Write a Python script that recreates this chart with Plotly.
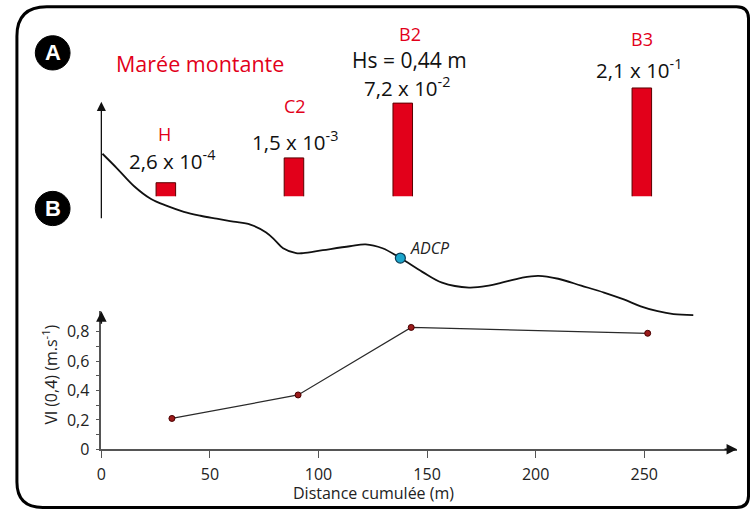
import plotly.graph_objects as go

# ---------------- data ----------------
# lower panel: Vl(0,4) velocities
dist_pts = [32.5, 90.6, 142.7, 251.6]
vel_pts = [0.21, 0.37, 0.83, 0.79]

# bars: sediment flux values (log scale) at each station
bar_names = ["H", "C2", "B2", "B3"]
bar_x = [29.7, 88.7, 138.8, 248.9]
bar_vals = [2.6e-4, 1.5e-3, 7.2e-2, 2.1e-1]
bar_labels = ["2,6 x 10<sup>-4</sup>", "1,5 x 10<sup>-3</sup>",
              "7,2 x 10<sup>-2</sup>", "2,1 x 10<sup>-1</sup>"]

# beach profile (relative elevation, arbitrary units)
prof_x = [0.5, 7.3, 15.1, 22.9, 30.2, 38.0, 45.7, 53.1, 60.8, 68.6, 75.9, 80.0,
          83.7, 89.7, 92.9, 102.0, 114.4, 121.7, 129.5, 137.7, 147.8, 156.9,
          169.3, 178.4, 184.4, 193.5, 201.3, 210.4, 221.0, 231.5, 240.6, 248.4,
          256.2, 263.5, 272.6]
prof_z = [8.4, 7.65, 6.75, 6.1, 5.75, 5.45, 5.25, 5.1, 4.95, 4.8, 4.4, 4.0,
          3.6, 3.35, 3.35, 3.5, 3.7, 3.8, 3.6, 3.1, 2.4, 1.85,
          1.6, 1.7, 1.85, 2.1, 2.2, 2.05, 1.7, 1.35, 1.0, 0.65,
          0.4, 0.25, 0.2]
adcp_x = [137.7]
adcp_z = [3.1]

x_ticks = [0, 50, 100, 150, 200, 250]
x_ticktext = ["0", "50", "100", "150", "200", "250"]
y_ticks = [0, 0.2, 0.4, 0.6, 0.8]
y_ticktext = ["0", "0,2", "0,4", "0,6", "0,8"]
y_minor = [0.1, 0.3, 0.5, 0.7]

W, H = 750, 520
FONT = "Open Sans"
RED = "#e2001a"


def px(x):
    return x / W


def py(y):
    return (H - y) / H


fig = go.Figure()

fig.add_trace(go.Scatter(x=dist_pts, y=vel_pts, mode="lines+markers",
                         line=dict(color="#2a2a2a", width=1.2),
                         marker=dict(color="#9b1b1b", size=6,
                                     line=dict(color="#4a0000", width=1)),
                         xaxis="x", yaxis="y", showlegend=False))

fig.add_trace(go.Scatter(x=prof_x, y=prof_z, mode="lines",
                         line=dict(color="#111111", width=1.8, shape="spline"),
                         xaxis="x", yaxis="y2", showlegend=False))
fig.add_trace(go.Scatter(x=adcp_x, y=adcp_z, mode="markers",
                         marker=dict(color="#1ba6cc", size=10,
                                     line=dict(color="#0b3c55", width=1.2)),
                         xaxis="x", yaxis="y2", showlegend=False))

fig.add_trace(go.Bar(x=bar_x, y=bar_vals, width=9,
                     marker=dict(color=RED, line=dict(color="#5a0000", width=1)),
                     xaxis="x", yaxis="y3", showlegend=False))

x0p, x1p = 97, 737
y0p, y1p = 459, 318
x_max = (x1p - x0p) / 2.186
y_max = (y0p - y1p) / 150.0

fig.update_layout(
    width=W, height=H,
    margin=dict(l=0, r=0, t=0, b=0),
    paper_bgcolor="white", plot_bgcolor="rgba(0,0,0,0)",
    font=dict(family=FONT, color="#222"),
    xaxis=dict(domain=[px(x0p), px(x1p)], range=[0, x_max], anchor="y",
               showline=True, linecolor="#555", linewidth=1.5,
               ticks="outside", ticklen=7, tickwidth=1.2, tickcolor="#555",
               tickvals=x_ticks, ticktext=x_ticktext,
               tickfont=dict(size=16, color="#222"), ticklabelstandoff=3,
               showgrid=False, zeroline=False),
    yaxis=dict(domain=[py(y0p), py(y1p)], range=[0, y_max], anchor="x",
               showline=True, linecolor="#555", linewidth=1.5,
               ticks="outside", ticklen=4, tickwidth=1.2, tickcolor="#555",
               tickvals=y_ticks, ticktext=y_ticktext,
               tickfont=dict(size=16, color="#222"), ticklabelstandoff=3,
               minor=dict(tickvals=y_minor, ticks="outside", ticklen=4,
                          tickcolor="#555", tickwidth=1.2),
               showgrid=False, zeroline=False),
    yaxis2=dict(domain=[py(326), py(145)], range=[0, 9], anchor="x",
                visible=False),
    yaxis3=dict(domain=[py(200.5), py(60)], type="log",
                range=[-4, -4 + (200.5 - 60) / 33.3], anchor="x",
                visible=False),
)


def label(xp, yp, text, size, color, **kw):
    d = dict(x=px(xp), y=py(yp), xref="paper", yref="paper", text=text,
             showarrow=False, xanchor="center", yanchor="middle",
             font=dict(size=size, color=color))
    d.update(kw)
    return d


ann = []
# axis arrows
ann.append(dict(x=x_max, y=0, xref="x", yref="y", ax=-14, ay=0,
                showarrow=True, arrowhead=2, arrowsize=1.4, arrowwidth=1.5,
                arrowcolor="#111", text=""))
ann.append(dict(x=0, y=y_max, xref="x", yref="y", ax=0, ay=14,
                showarrow=True, arrowhead=2, arrowsize=1.4, arrowwidth=1.5,
                arrowcolor="#111", text=""))
ann.append(dict(x=px(97), y=py(104), xref="paper", yref="paper", ax=0, ay=118,
                showarrow=True, arrowhead=2, arrowsize=1.4, arrowwidth=1.3,
                arrowcolor="#111", text=""))

# axis titles
ann.append(label(371, 504, "Distance cumulée (m)", 16, "#222"))
ann.append(label(45, 383, "Vl (0,4) (m.s<sup>-1</sup>)", 16, "#222", textangle=-90))

# bar labels
name_y = [137, 108, 35, 40]
val_y = [163, 144, 89, 70]
val_x = [168, 292, 405, 638]
name_x = [161, 292, 408, 641]
for i in range(4):
    ann.append(label(name_x[i], name_y[i], bar_names[i], 18, RED))
    ann.append(label(val_x[i], val_y[i], bar_labels[i], 20.5, "#111"))
ann.append(label(407, 61, "Hs = 0,44 m", 21, "#111"))
ann.append(label(196, 65, "Marée montante", 21.5, RED))
ann.append(dict(x=adcp_x[0], y=adcp_z[0], xref="x", yref="y2",
                text="<i>ADCP</i>", showarrow=False, xanchor="left",
                yanchor="middle", xshift=8, yshift=10,
                font=dict(size=16, color="#222")))

# panel letters
for letter, cy in (("A", 54), ("B", 213)):
    ann.append(label(48, cy, "<b>%s</b>" % letter, 22, "white"))
    ann[-1]["font"]["family"] = "Arial"

fig.update_layout(annotations=ann)

shapes = []
for cy in (54, 213):
    shapes.append(dict(type="circle", xref="paper", yref="paper",
                       x0=px(48 - 17.5), x1=px(48 + 17.5), y0=py(cy + 17.5), y1=py(cy - 17.5),
                       fillcolor="black", line=dict(color="black", width=1)))

# rounded frame
L, R, T, B = 12, 748.5, 7, 518.5
rtl, rtr, rbl, rbr = 30, 12, 26, 12


def P(x, y):
    return "%.5f,%.5f" % (px(x), py(y))


path = ("M " + P(L + rtl, T) + " L " + P(R - rtr, T) +
        " Q " + P(R, T) + " " + P(R, T + rtr) +
        " L " + P(R, B - rbr) + " Q " + P(R, B) + " " + P(R - rbr, B) +
        " L " + P(L + rbl, B) + " Q " + P(L, B) + " " + P(L, B - rbl) +
        " L " + P(L, T + rtl) + " Q " + P(L, T) + " " + P(L + rtl, T) + " Z")
shapes.append(dict(type="path", xref="paper", yref="paper", path=path,
                   line=dict(color="black", width=3)))
fig.update_layout(shapes=shapes)

post = """
document.documentElement.style.margin='0';
document.documentElement.style.overflow='hidden';
document.body.style.margin='0';
document.body.style.overflow='hidden';
var gd = document.getElementsByClassName('plotly-graph-div')[0];
gd.style.position='fixed'; gd.style.left='0px'; gd.style.top='0px';
"""
fig.write_html("out.html", config={"displayModeBar": False}, post_script=post)
